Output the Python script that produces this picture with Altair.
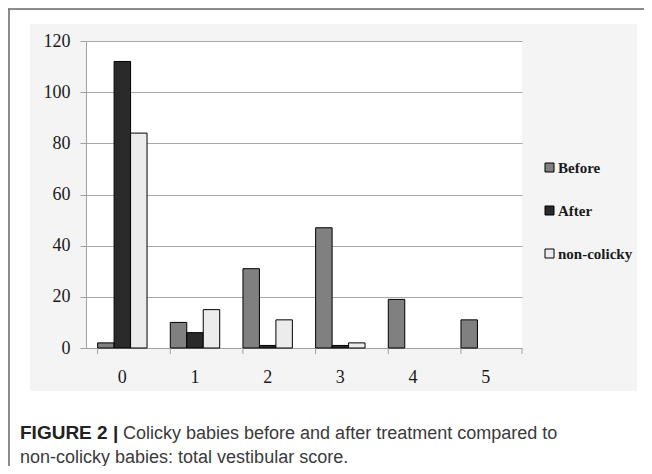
import altair as alt
import pandas as pd

scores = ["0", "1", "2", "3", "4", "5"]
groups = ["Before", "After", "non-colicky"]
before = [2, 10, 31, 47, 19, 11]
after = [112, 6, 1, 1, 0, 0]
noncolicky = [84, 15, 11, 2, 0, 0]
y_ticks = [0, 20, 40, 60, 80, 100, 120]
fills = ["#808080", "#2a2a2a", "#ececec"]
caption_bold = "FIGURE 2 |"
caption_line1 = "Colicky babies before and after treatment compared to"
caption_line2 = "non-colicky babies: total vestibular score."

rows = []
for name, vals in zip(groups, [before, after, noncolicky]):
    for s, v in zip(scores, vals):
        rows.append({"score": s, "group": name, "count": v})
df = pd.DataFrame(rows)
tick_df = pd.DataFrame({"score": scores})

W, H = 436, 307
one = alt.Data(values=[{}])

def strip(x, x2, y, y2):
    return alt.Chart(one).mark_rect(color="white").encode(
        x=alt.value(x), x2=alt.value(x2), y=alt.value(y), y2=alt.value(y2))

strips = [
    strip(-78, -56, -33, 425),
    strip(-78, 558, -33, -17),
    strip(551, 558, -33, 425),
    strip(-78, 558, 350, 425),
]

bars = alt.Chart(df).transform_filter("datum.count > 0").mark_bar(
    stroke="black", strokeWidth=1
).encode(
    x=alt.X("score:N", sort=scores, title=None,
            scale=alt.Scale(paddingInner=0.32, paddingOuter=0.16),
            axis=alt.Axis(ticks=False, labelAngle=0, labelPadding=20,
                          domainColor="#a0a0a0", grid=False)),
    xOffset=alt.XOffset("group:N", sort=groups,
                        scale=alt.Scale(domain=groups, paddingInner=0, paddingOuter=0)),
    y=alt.Y("count:Q", title=None,
            scale=alt.Scale(domain=[0, 120], nice=False),
            axis=alt.Axis(values=y_ticks, tickSize=6, labelPadding=10,
                          domainColor="#a0a0a0", tickColor="#a0a0a0",
                          gridColor="#a9a9a9")),
    fill=alt.Fill("group:N", sort=groups,
                  scale=alt.Scale(domain=groups, range=fills),
                  legend=alt.Legend(orient="none", legendX=456, legendY=119,
                                    title=None, symbolType="square", symbolSize=81,
                                    labelFont="Liberation Serif", labelFontWeight="bold",
                                    labelFontSize=15, labelColor="#1a1a1a",
                                    rowPadding=27, labelOffset=1,
                                    symbolStrokeColor="black", symbolStrokeWidth=1,
                                    padding=0)),
)

xticks = alt.Chart(tick_df).mark_rule(color="#a0a0a0").encode(
    x=alt.X("score:N", sort=scores, bandPosition=0),
    y=alt.value(H), y2=alt.value(H + 6),
)
last_tick = alt.Chart(one).mark_rule(color="#a0a0a0").encode(
    x=alt.value(W), y=alt.value(H), y2=alt.value(H + 6))

cap1 = alt.Chart(one).mark_text(align="left", baseline="alphabetic",
                                font="Liberation Sans", fontSize=19,
                                fontWeight="bold", color="#222222").encode(
    x=alt.value(-66), y=alt.value(398), text=alt.value(caption_bold))
cap2 = alt.Chart(one).mark_text(align="left", baseline="alphabetic",
                                font="Liberation Sans", fontSize=18,
                                color="#3a3a3a").encode(
    x=alt.value(37), y=alt.value(398), text=alt.value(caption_line1))
cap3 = alt.Chart(one).mark_text(align="left", baseline="alphabetic",
                                font="Liberation Sans", fontSize=18,
                                color="#3a3a3a").encode(
    x=alt.value(-66), y=alt.value(422), text=alt.value(caption_line2))

frame_top = alt.Chart(one).mark_rule(color="#666666", strokeWidth=1.5).encode(
    x=alt.value(-78), x2=alt.value(558), y=alt.value(-32))
frame_left = alt.Chart(one).mark_rule(color="#666666", strokeWidth=1.5).encode(
    x=alt.value(-77), y=alt.value(-32), y2=alt.value(425))

chart = alt.layer(*strips, bars, xticks, last_tick, cap1, cap2, cap3,
                  frame_top, frame_left).properties(
    width=W, height=H,
    autosize=alt.AutoSizeParams(type="none"),
    padding={"left": 78, "top": 33, "right": 122, "bottom": 118},
    background="#f4f4f4",
).configure_view(
    fill="white", strokeWidth=0
).configure_axis(
    labelFont="Liberation Serif", labelFontSize=18, labelColor="#1a1a1a",
)

chart.save("out.html", embed_options={"renderer": "svg", "actions": False})
